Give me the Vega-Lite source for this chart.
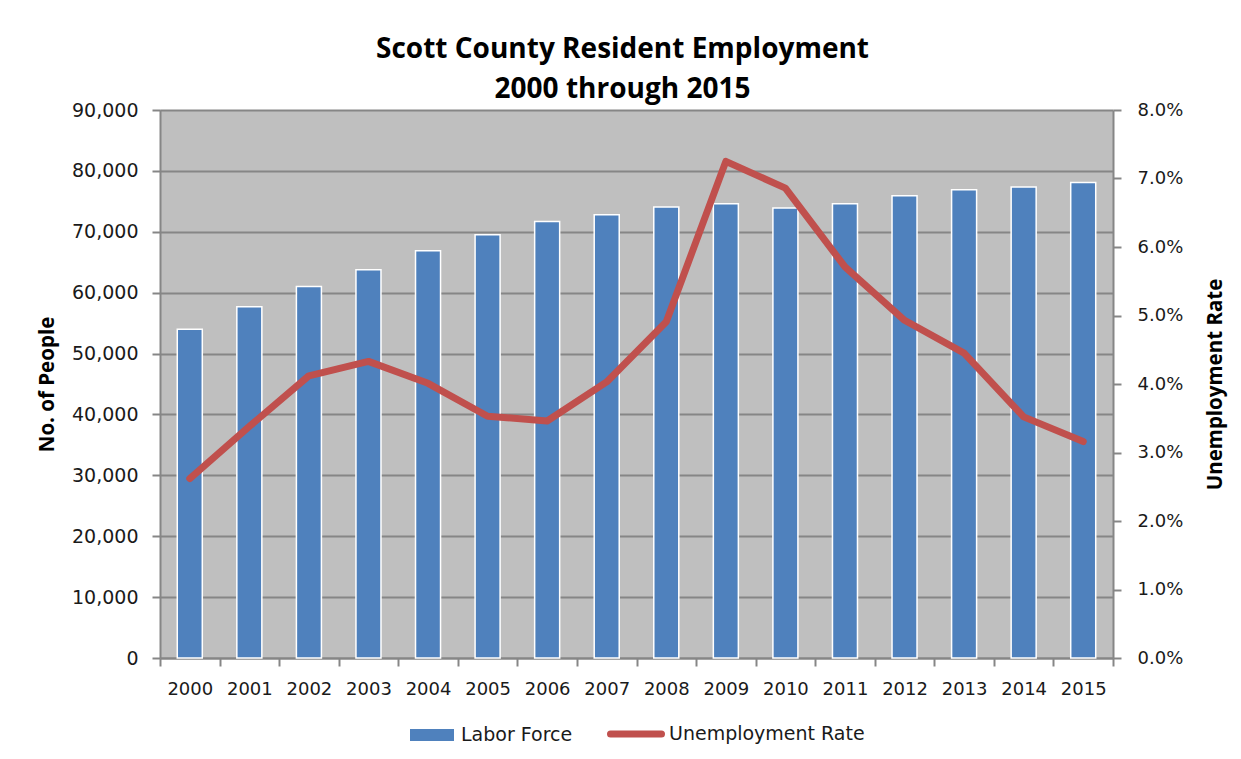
{
  "$schema": "https://vega.github.io/schema/vega-lite/v6.json",
  "width": 953,
  "height": 548,
  "autosize": {"type": "none"},
  "padding": {"left": 160, "top": 110, "right": 128, "bottom": 101},
  "background": "white",
  "config": {
    "view": {"stroke": null, "fill": "#BFBFBF"},
    "font": "DejaVu Sans"
  },
  "title": {
    "text": ["Scott County Resident Employment", "2000 through 2015"],
    "font": "Open Sans",
    "fontSize": 28,
    "fontWeight": "bold",
    "color": "#000000",
    "anchor": "middle",
    "frame": "group",
    "dx": -14,
    "lineHeight": 40,
    "offset": -3
  },
  "data": {
    "values": [
      {"Year": "2000", "LaborForce": 54000, "Rate": 0.0262},
      {"Year": "2001", "LaborForce": 57700, "Rate": 0.0338},
      {"Year": "2002", "LaborForce": 61000, "Rate": 0.0412},
      {"Year": "2003", "LaborForce": 63750, "Rate": 0.0433},
      {"Year": "2004", "LaborForce": 66900, "Rate": 0.0401},
      {"Year": "2005", "LaborForce": 69500, "Rate": 0.0353},
      {"Year": "2006", "LaborForce": 71700, "Rate": 0.0346},
      {"Year": "2007", "LaborForce": 72800, "Rate": 0.0403},
      {"Year": "2008", "LaborForce": 74050, "Rate": 0.0491},
      {"Year": "2009", "LaborForce": 74600, "Rate": 0.0725},
      {"Year": "2010", "LaborForce": 73900, "Rate": 0.0686},
      {"Year": "2011", "LaborForce": 74600, "Rate": 0.0571},
      {"Year": "2012", "LaborForce": 75900, "Rate": 0.0493},
      {"Year": "2013", "LaborForce": 76900, "Rate": 0.0445},
      {"Year": "2014", "LaborForce": 77350, "Rate": 0.0352},
      {"Year": "2015", "LaborForce": 78100, "Rate": 0.0316}
    ]
  },
  "encoding": {
    "x": {
      "field": "Year",
      "type": "nominal",
      "scale": {"paddingInner": 0, "paddingOuter": 0},
      "axis": {
        "title": null,
        "labelAngle": 0,
        "labelFontSize": 18,
        "labelColor": "#1a1a1a",
        "labelPadding": 14,
        "tickBand": "extent",
        "tickSize": 8,
        "tickColor": "#868686",
        "tickWidth": 2,
        "domainColor": "#868686",
        "domainWidth": 2,
        "grid": false
      }
    }
  },
  "layer": [
    {
      "mark": {"type": "bar", "stroke": "white", "strokeWidth": 1.5, "width": {"band": 0.42}},
      "encoding": {
        "y": {
          "field": "LaborForce",
          "type": "quantitative",
          "scale": {"domain": [0, 90000], "nice": false},
          "axis": {
            "orient": "left",
            "title": "No. of People",
            "titleFont": "Open Sans",
            "titleFontSize": 20.5,
            "titleFontWeight": "bold",
            "titleColor": "#000000",
            "titlePadding": 14,
            "values": [0, 10000, 20000, 30000, 40000, 50000, 60000, 70000, 80000, 90000],
            "format": ",.0f",
            "labelFontSize": 19,
            "labelColor": "#1a1a1a",
            "labelPadding": 14,
            "tickSize": 8,
            "tickColor": "#868686",
            "tickWidth": 2,
            "domainColor": "#868686",
            "domainWidth": 2,
            "grid": true,
            "gridColor": "#868686",
            "gridWidth": 2
          }
        },
        "fill": {
          "datum": "Labor Force",
          "type": "nominal",
          "scale": {"range": ["#4F81BD"]},
          "legend": {
            "orient": "none",
            "legendX": 250,
            "legendY": 603,
            "title": null,
            "symbolType": "M-1,-0.27H1V0.27H-1Z",
            "symbolSize": 1936,
            "symbolStrokeWidth": 0,
            "labelFontSize": 19,
            "labelColor": "#1a1a1a",
            "labelOffset": 7,
            "labelLimit": 300
          }
        }
      }
    },
    {
      "mark": {"type": "line", "strokeWidth": 7, "strokeCap": "round", "strokeJoin": "round"},
      "encoding": {
        "y": {
          "field": "Rate",
          "type": "quantitative",
          "scale": {"domain": [0, 0.08], "nice": false},
          "axis": {
            "orient": "right",
            "title": "Unemployment Rate",
            "titleAngle": 270,
            "titleFont": "Open Sans",
            "titleFontSize": 20.5,
            "titleFontWeight": "bold",
            "titleColor": "#000000",
            "titlePadding": 43,
            "values": [0, 0.01, 0.02, 0.03, 0.04, 0.05, 0.06, 0.07, 0.08],
            "format": ".1%",
            "labelFontSize": 18,
            "labelColor": "#1a1a1a",
            "labelPadding": 16,
            "tickSize": 8,
            "tickColor": "#868686",
            "tickWidth": 2,
            "domainColor": "#868686",
            "domainWidth": 2,
            "grid": false
          }
        },
        "stroke": {
          "datum": "Unemployment Rate",
          "type": "nominal",
          "scale": {"range": ["#C0504D"]},
          "legend": {
            "orient": "none",
            "legendX": 447,
            "legendY": 595,
            "title": null,
            "symbolType": "stroke",
            "symbolSize": 2600,
            "symbolStrokeWidth": 7,
            "labelFontSize": 19,
            "labelColor": "#1a1a1a",
            "labelOffset": 4,
            "labelLimit": 300,
            "encode": {"symbols": {"update": {"strokeCap": {"value": "round"}}}}
          }
        }
      }
    }
  ],
  "resolve": {"scale": {"y": "independent"}}
}
